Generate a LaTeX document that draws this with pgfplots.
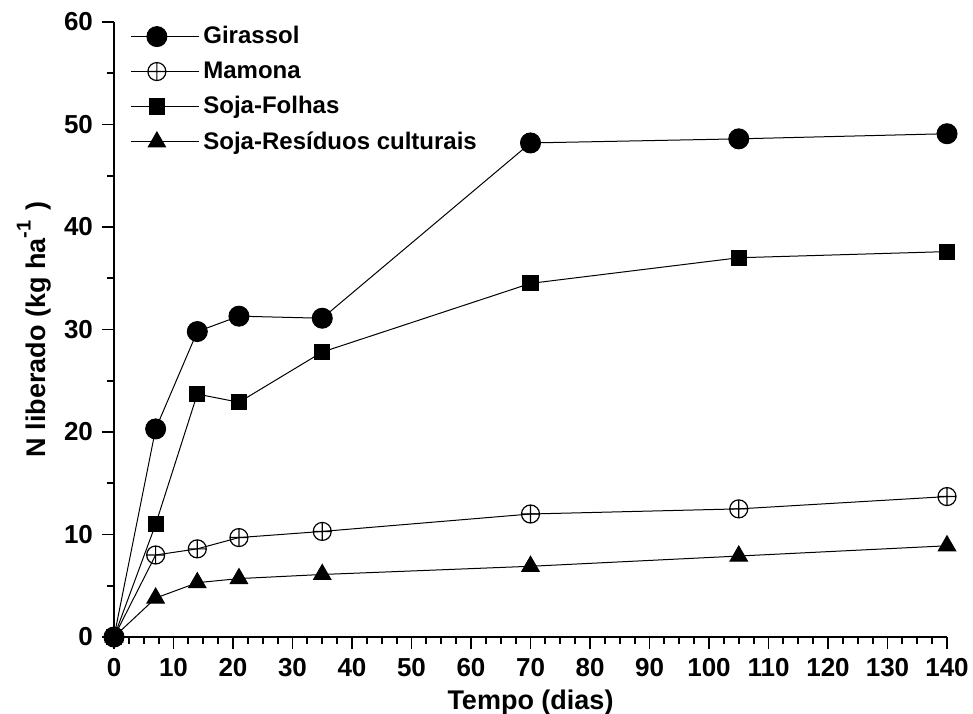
\documentclass[border=0pt]{standalone}
\usepackage{fontspec}
\setmainfont{Liberation Sans}
\usepackage{pgfplots}
\pgfplotsset{compat=1.18}
\begin{document}
\begin{tikzpicture}
\useasboundingbox (-57pt,-38pt) rectangle (429.5pt,318.5pt);
\begin{axis}[
  at={(0,0)}, anchor=south west,
  scale only axis,
  width=416.5pt, height=307.5pt,
  xmin=0, xmax=140, ymin=0, ymax=60,
  axis x line=bottom, axis y line=left,
  axis line style={-, line width=1pt},
  xtick={0,10,...,140}, ytick={0,10,...,60},
  minor x tick num=3, minor y tick num=1,
  tick align=outside,
  major tick length=6pt, minor tick length=3.5pt,
  every tick/.style={black, line width=0.9pt},
  /pgf/number format/assume math mode=true,
  ticklabel style={font=\bfseries\fontsize{13}{15}\selectfont},
  xticklabel style={yshift=-1pt},
  yticklabel style={xshift=-1pt},
  xlabel={Tempo (dias)},
  ylabel={N liberado (kg ha\raisebox{0.55em}{\fontsize{10}{10}\selectfont -1}\hspace{0.35em})},
  label style={font=\bfseries\fontsize{13.5}{15}\selectfont},
  xlabel style={yshift=0pt},
  ylabel style={yshift=-0.5pt},
  clip=false,
  every axis plot/.append style={black, line width=0.5pt},
  legend style={draw=none, fill=none, at={(rel axis cs:0,1)}, anchor=north west,
    xshift=5pt, yshift=2pt,
    font=\bfseries\fontsize{12}{14}\selectfont, row sep=3.5pt,
    nodes={inner sep=2pt}},
  legend cell align=left,
  legend image code/.code={\draw[mark repeat=2,mark phase=2] plot coordinates {(0pt,0pt)(13pt,0pt)(26pt,0pt)};\path (0pt,0pt) -- (34pt,0pt);},
]
\addplot[mark=*, mark options={fill=black, scale=1.0}, mark size=5pt] coordinates {
(0,0) (7,20.3) (14,29.8) (21,31.3) (35,31.1) (70,48.2) (105,48.6) (140,49.1)};
\addlegendentry{Girassol}
\addplot[mark=oplus, mark options={fill=white, line width=0.6pt}, mark size=4.5pt] coordinates {
(0,0) (7,8.0) (14,8.6) (21,9.7) (35,10.3) (70,12.0) (105,12.5) (140,13.7)};
\addlegendentry{Mamona}
\addplot[mark=square*, mark options={fill=black}, mark size=3.8pt] coordinates {
(0,0) (7,11.0) (14,23.7) (21,22.9) (35,27.8) (70,34.5) (105,37.0) (140,37.6)};
\addlegendentry{Soja-Folhas}
\addplot[mark=triangle*, mark options={fill=black}, mark size=5pt] coordinates {
(0,0) (7,3.8) (14,5.3) (21,5.7) (35,6.1) (70,6.9) (105,7.9) (140,8.9)};
\addlegendentry{Soja-Resíduos culturais}
\end{axis}
\end{tikzpicture}
\end{document}
